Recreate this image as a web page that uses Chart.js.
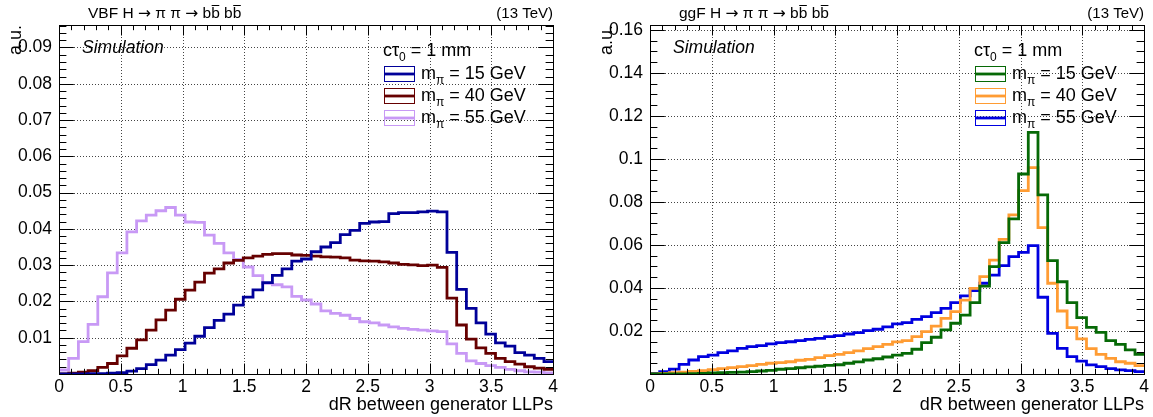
<!DOCTYPE html>
<html>
<head>
<meta charset="utf-8">
<script src="https://cdn.jsdelivr.net/npm/chart.js@4.4.1/dist/chart.umd.min.js"></script>
<style>
    html, body { margin: 0; padding: 0; background: #fff; }
    #wrap { position: relative; width: 1153px; height: 417px; }
    .panel { position: absolute; top: 0; height: 417px; }
    #left { left: 0; width: 576px; }
    #right { left: 576px; width: 577px; }
</style>
</head>
<body>
<div id="wrap">
    <div class="panel" id="left"><canvas id="vbfChart" width="576" height="417"></canvas></div>
    <div class="panel" id="right"><canvas id="ggfChart" width="577" height="417"></canvas></div>
</div>
<script>
// =========================================
// dR between the two generator LLPs, VBF and ggF samples
// =========================================

// bins of width pi/40, the first 51 of them fall inside 0..4
const binWidth = Math.PI / 40;
const masses = [15, 40, 55];

// VBF (left panel)
const vbf15 = [
    0, 0, 0, 0.0001, 0.0001, 0.0002, 0.0004, 0.0008, 0.0015, 0.0026,
    0.0038, 0.0052, 0.0067, 0.0085, 0.0104, 0.0128, 0.0148, 0.0165, 0.0190, 0.0212,
    0.0232, 0.0252, 0.0272, 0.0290, 0.0311, 0.0317, 0.0337, 0.0350, 0.0362, 0.0384,
    0.0396, 0.0415, 0.0419, 0.0420, 0.0442, 0.0445, 0.0445, 0.0447, 0.0449, 0.0447,
    0.0335, 0.0233, 0.0181, 0.0141, 0.0110, 0.0086, 0.0077, 0.0059, 0.0052, 0.0043, 0.0034
];
const vbf40 = [
    0, 0.0002, 0.0005, 0.0009, 0.0018, 0.0029, 0.0050, 0.0071, 0.0094, 0.0121,
    0.0149, 0.0176, 0.0206, 0.0231, 0.0253, 0.0278, 0.0290, 0.0306, 0.0313, 0.0320,
    0.0325, 0.0330, 0.0332, 0.0332, 0.0328, 0.0327, 0.0325, 0.0323, 0.0322, 0.0320,
    0.0314, 0.0312, 0.0311, 0.0309, 0.0306, 0.0302, 0.0301, 0.0299, 0.0300, 0.0294,
    0.0209, 0.0135, 0.0096, 0.0072, 0.0057, 0.0043, 0.0034, 0.0027, 0.0020, 0.0016, 0.0013
];
const vbf55 = [
    0.0011, 0.0043, 0.0089, 0.0137, 0.0213, 0.0279, 0.0334, 0.0392, 0.0422, 0.0438,
    0.0450, 0.0459, 0.0438, 0.0419, 0.0418, 0.0383, 0.0360, 0.0334, 0.0316, 0.0295,
    0.0271, 0.0250, 0.0246, 0.0240, 0.0214, 0.0204, 0.0193, 0.0174, 0.0167, 0.0162,
    0.0153, 0.0144, 0.0141, 0.0135, 0.0130, 0.0126, 0.0123, 0.0121, 0.0119, 0.0117,
    0.0083, 0.0057, 0.0036, 0.0029, 0.0023, 0.0018, 0.0013, 0.0009, 0.0006, 0.0005, 0.0003
];

// ggF (right panel)
const ggf15 = [
    0, 0, 0.0001, 0.0001, 0.0002, 0.0003, 0.0005, 0.0006, 0.0008, 0.0009,
    0.0011, 0.0014, 0.0017, 0.0022, 0.0025, 0.0029, 0.0033, 0.0036, 0.0040, 0.0043,
    0.0050, 0.0056, 0.0065, 0.0071, 0.0079, 0.0088, 0.0096, 0.0115, 0.0146, 0.0171,
    0.0205, 0.0236, 0.0274, 0.0332, 0.0409, 0.0499, 0.0611, 0.0721, 0.0930, 0.1124,
    0.0833, 0.0527, 0.0429, 0.0332, 0.0262, 0.0217, 0.0194, 0.0155, 0.0138, 0.0112, 0.0091
];
const ggf40 = [
    0, 0.0003, 0.0006, 0.0009, 0.0012, 0.0016, 0.0020, 0.0025, 0.0030, 0.0034,
    0.0039, 0.0045, 0.0050, 0.0053, 0.0057, 0.0064, 0.0068, 0.0076, 0.0085, 0.0091,
    0.0099, 0.0108, 0.0118, 0.0127, 0.0138, 0.0149, 0.0155, 0.0174, 0.0197, 0.0223,
    0.0259, 0.0290, 0.0344, 0.0398, 0.0453, 0.0530, 0.0626, 0.0740, 0.0853, 0.0960,
    0.0681, 0.0422, 0.0293, 0.0216, 0.0163, 0.0118, 0.0091, 0.0073, 0.0057, 0.0050, 0.0039
];
const ggf55 = [
    0.0003, 0.0011, 0.0023, 0.0045, 0.0065, 0.0081, 0.0088, 0.0099, 0.0108, 0.0119,
    0.0127, 0.0132, 0.0140, 0.0146, 0.0150, 0.0155, 0.0161, 0.0166, 0.0174, 0.0178,
    0.0186, 0.0192, 0.0202, 0.0208, 0.0219, 0.0233, 0.0239, 0.0254, 0.0267, 0.0285,
    0.0305, 0.0332, 0.0363, 0.0388, 0.0422, 0.0460, 0.0504, 0.0546, 0.0566, 0.0597,
    0.0357, 0.0189, 0.0119, 0.0081, 0.0060, 0.0042, 0.0034, 0.0025, 0.0019, 0.0016, 0.0011
];

const xTicks = { min: 0, max: 4, step: 0.5, minor: 0.1 };
const FONT = '"Liberation Sans", Arial, Helvetica, sans-serif';
const SYMBOL_FONT = '"DejaVu Sans", sans-serif';

// histogram -> points on the left bin edges (+ closing edge), drawn as steps
function histPoints(values) {
    const pts = values.map((v, i) => ({ x: i * binWidth, y: v }));
    pts.push({ x: values.length * binWidth, y: values[values.length - 1] });
    return pts;
}

function runFont(r) {
    return (r.italic ? 'italic ' : '') + r.size + 'px ' + (r.family || FONT);
}

// text pieces with sub-scripts and bars (ROOT latex look-alike)
function drawRuns(ctx, x, y, runs, align) {
    let total = 0;
    runs.forEach(r => {
        ctx.font = runFont(r);
        r.w = ctx.measureText(r.text).width;
        total += r.w;
    });
    let cx = align === 'right' ? x - total : x;
    runs.forEach(r => {
        ctx.font = runFont(r);
        ctx.fillText(r.text, cx, y + (r.dy || 0));
        if (r.bar) {
            ctx.save();
            ctx.strokeStyle = ctx.fillStyle;
            ctx.lineWidth = 1;
            const by = Math.round(y - r.size * 0.86) + 0.5;
            line(ctx, cx + 0.5, by, cx + r.w - 0.5, by);
            ctx.restore();
        }
        cx += r.w;
    });
}

function line(ctx, x1, y1, x2, y2) {
    ctx.beginPath();
    ctx.moveTo(x1, y1);
    ctx.lineTo(x2, y2);
    ctx.stroke();
}

function titleRuns(prod) {
    const s = 15.5;
    return [
        { text: prod + ' H ', size: s },
        { text: '\u2192', size: s, family: SYMBOL_FONT },
        { text: ' \u03C0 \u03C0 ', size: s },
        { text: '\u2192', size: s, family: SYMBOL_FONT },
        { text: ' b', size: s },
        { text: 'b', size: s, bar: true },
        { text: ' b', size: s },
        { text: 'b', size: s, bar: true }
    ];
}

// ROOT style: dotted grid, frame with inner ticks on all four sides, legend and labels
const rootFrame = {
    id: 'rootFrame',
    beforeDatasetsDraw(chart, args, opts) {
        const { ctx, chartArea: a, scales: { x, y } } = chart;
        ctx.save();
        ctx.strokeStyle = '#444';
        ctx.lineWidth = 1;
        ctx.setLineDash([1, 2]);
        x.ticks.forEach(t => {
            if (t.value <= x.min || t.value >= x.max) return;
            const px = Math.round(x.getPixelForValue(t.value)) + 0.5;
            line(ctx, px, a.top, px, a.bottom);
        });
        y.ticks.forEach(t => {
            if (t.value <= y.min || t.value >= y.max) return;
            const py = Math.round(y.getPixelForValue(t.value)) + 0.5;
            line(ctx, a.left, py, a.right, py);
        });
        ctx.restore();
    },
    afterDatasetsDraw(chart, args, opts) {
        const { ctx, chartArea: a, scales: { x, y } } = chart;
        ctx.save();
        ctx.strokeStyle = '#000';
        ctx.lineWidth = 1;
        ctx.strokeRect(Math.round(a.left) + 0.5, Math.round(a.top) + 0.5,
            Math.round(a.right - a.left), Math.round(a.bottom - a.top));

        // x ticks (bottom and top)
        const nx = Math.round((x.max - x.min) / xTicks.minor);
        for (let i = 0; i <= nx; i++) {
            const v = x.min + i * xTicks.minor;
            const len = i % 5 === 0 ? 10.5 : 5.2;
            const px = Math.round(x.getPixelForValue(v)) + 0.5;
            line(ctx, px, a.bottom, px, a.bottom - len);
            line(ctx, px, a.top, px, a.top + len);
        }
        // y ticks (left and right)
        const ny = Math.floor((y.max - y.min) / opts.yMinor + 1e-6);
        for (let i = 0; i <= ny; i++) {
            const v = y.min + i * opts.yMinor;
            const len = i % opts.yDiv === 0 ? 14.8 : 7.4;
            const py = Math.round(y.getPixelForValue(v)) + 0.5;
            line(ctx, a.left, py, a.left + len, py);
            line(ctx, a.right, py, a.right - len, py);
        }
        ctx.restore();
    },
    afterDraw(chart, args, opts) {
        const { ctx, chartArea: a } = chart;
        ctx.save();
        ctx.fillStyle = '#000';
        ctx.textBaseline = 'alphabetic';

        // title line
        drawRuns(ctx, a.left + 29, 18, titleRuns(opts.prod));
        drawRuns(ctx, a.right, 18, [{ text: '(13 TeV)', size: 15 }], 'right');

        // Simulation tag
        drawRuns(ctx, a.left + 23, 53, [{ text: 'Simulation', size: 17.5, italic: true }]);

        // legend header
        const lx = a.left + 325;
        drawRuns(ctx, lx - 1, 56, [
            { text: 'c\u03C4', size: 18 },
            { text: '0', size: 12, dy: 5 },
            { text: ' = 1 mm', size: 18 }
        ]);

        // legend entries
        chart.data.datasets.forEach((ds, i) => {
            const top = 66 + 22 * i;
            ctx.strokeStyle = ds.borderColor;
            ctx.lineWidth = 1;
            ctx.strokeRect(lx + 0.5, top + 0.5, 30, 15);
            ctx.lineWidth = 2.8;
            line(ctx, lx, top + 8, lx + 31, top + 8);
            drawRuns(ctx, lx + 37, top + 13, [
                { text: 'm', size: 18 },
                { text: '\u03C0', size: 12, dy: 5 },
                { text: ' = ' + masses[i] + ' GeV', size: 18 }
            ]);
        });
        ctx.restore();
    }
};

function makePanel(canvasId, cfg) {
    const fontTick = { family: FONT, size: 17.5 };
    const fontTitle = { family: FONT, size: 18 };
    return new Chart(document.getElementById(canvasId), {
        type: 'line',
        data: {
            datasets: cfg.series.map((values, i) => ({
                label: 'm = ' + masses[i] + ' GeV',
                data: histPoints(values),
                borderColor: cfg.colors[i],
                borderWidth: 2.8,
                borderJoinStyle: 'miter',
                pointRadius: 0,
                stepped: 'before',
                fill: false,
                clip: 0
            }))
        },
        options: {
            responsive: false,
            animation: false,
            events: [],
            layout: { padding: { left: cfg.padLeft, right: cfg.padRight, top: 25, bottom: 0 } },
            plugins: {
                legend: { display: false },
                tooltip: { enabled: false },
                rootFrame: { prod: cfg.prod, yMinor: cfg.yMinor, yDiv: cfg.yDiv }
            },
            scales: {
                x: {
                    type: 'linear',
                    min: xTicks.min,
                    max: xTicks.max,
                    bounds: 'data',
                    grid: { display: false },
                    border: { display: false },
                    ticks: {
                        stepSize: xTicks.step, padding: -5, color: '#000', font: fontTick,
                        maxRotation: 0, autoSkip: false,
                        callback: v => String(+v.toFixed(2))
                    },
                    title: {
                        display: true, text: 'dR between generator LLPs', align: 'end',
                        color: '#000', font: fontTitle, padding: { top: 0, bottom: 1 }
                    },
                    afterFit: s => { s.height = 43; }
                },
                y: {
                    type: 'linear',
                    min: 0,
                    max: cfg.yMax,
                    bounds: 'data',
                    grid: { display: false },
                    border: { display: false },
                    ticks: {
                        stepSize: cfg.yStep, includeBounds: false, padding: -1, color: '#000', font: fontTick,
                        callback: v => (v === 0 ? '' : String(+v.toFixed(3)))
                    },
                    title: {
                        display: true, text: 'a.u.', align: 'end',
                        color: '#000', font: fontTitle, padding: { top: 5, bottom: 0 }
                    },
                    afterFit: s => { s.width = 59; }
                }
            }
        },
        plugins: [rootFrame]
    });
}

makePanel('vbfChart', {
    prod: 'VBF',
    series: [vbf15, vbf40, vbf55],
    colors: ['#000099', '#660000', '#c899f5'],
    yMax: 0.0962, yStep: 0.01, yMinor: 0.002, yDiv: 5,
    padLeft: 0, padRight: 23
});

makePanel('ggfChart', {
    prod: 'ggF',
    series: [ggf15, ggf40, ggf55],
    colors: ['#066906', '#ff9c33', '#0000e0'],
    yMax: 0.1623, yStep: 0.02, yMinor: 0.005, yDiv: 4,
    padLeft: 15, padRight: 9
});
</script>
</body>
</html>
